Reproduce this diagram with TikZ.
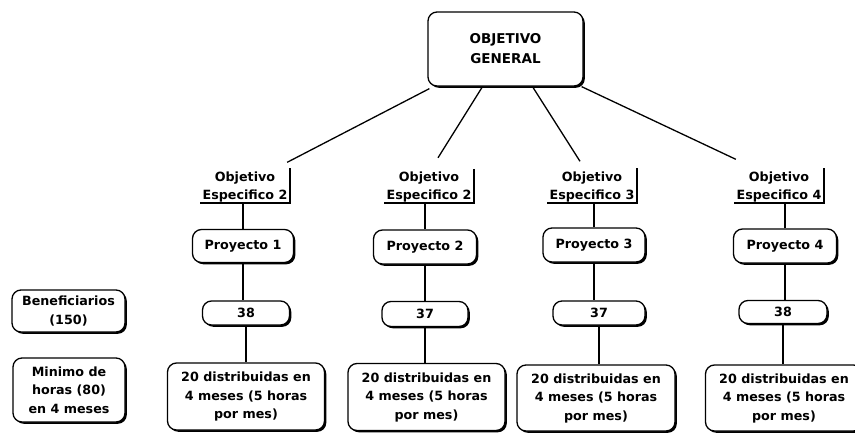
\documentclass[tikz,border=0pt]{standalone}
\usepackage{fontspec}
\setmainfont{DejaVu Sans}
\usetikzlibrary{shadows}
\begin{document}
\begin{tikzpicture}[x=1pt,y=-1pt,
  box/.style={draw=black, line width=1.3pt, rounded corners=9pt, fill=white,
    align=center, inner sep=0pt, font=\bfseries\fontsize{12.7}{18.5}\selectfont,
    drop shadow={shadow xshift=1.8pt, shadow yshift=-1.8pt, opacity=1, fill=black}},
  esp/.style={align=center, inner sep=0pt, minimum width=90pt, minimum height=32pt,
    font=\bfseries\fontsize{12.7}{18}\selectfont},
  bracket/.style={line width=2.4pt},
  conn/.style={line width=1.3pt}
]
\useasboundingbox (0,0) rectangle (855,434);
\fill[white] (0,0) rectangle (855,434);
\clip (0,0) rectangle (855,434);

% top
\node[box, minimum width=155pt, minimum height=74pt, font=\bfseries\fontsize{13.5}{20}\selectfont] (g) at (505.5,49) {OBJETIVO\\GENERAL};

% specific objectives
\node[esp] (e1) at (245,186.5) {Objetivo\\Especifico 2};
\node[esp] (e2) at (429,187) {Objetivo\\Especifico 2};
\node[esp] (e3) at (592,186.5) {Objetivo\\Especifico 3};
\node[esp] (e4) at (779,186.5) {Objetivo\\Especifico 4};
\foreach \e in {e1,e2,e3,e4}{
  \draw[bracket] ([yshift=2pt]\e.north east) -- (\e.south east) -- (\e.south west);
}

% projects
\node[box, minimum width=101pt, minimum height=33pt] (p1) at (243,246) {Proyecto 1};
\node[box, minimum width=103pt, minimum height=34pt] (p2) at (425,247) {Proyecto 2};
\node[box, minimum width=102pt, minimum height=34pt] (p3) at (594,245) {Proyecto 3};
\node[box, minimum width=103pt, minimum height=34pt] (p4) at (785,246) {Proyecto 4};

% numbers
\node[box, minimum width=87pt, minimum height=24pt] (n1) at (246,313) {38};
\node[box, minimum width=86pt, minimum height=25pt] (n2) at (425,314) {37};
\node[box, minimum width=92pt, minimum height=24pt] (n3) at (599,313) {37};
\node[box, minimum width=88pt, minimum height=23pt] (n4) at (783,312) {38};

% bottom boxes
\node[box, minimum width=157pt, minimum height=67pt] (d1) at (246,396.5) {20 distribuidas en\\4 meses (5 horas\\por mes)};
\node[box, minimum width=157pt, minimum height=67pt] (d2) at (426.5,397) {20 distribuidas en\\4 meses (5 horas\\por mes)};
\node[box, minimum width=158pt, minimum height=66pt] (d3) at (596,398) {20 distribuidas en\\4 meses (5 horas\\por mes)};
\node[box, minimum width=157pt, minimum height=66pt] (d4) at (784,398) {20 distribuidas en\\4 meses (5 horas\\por mes)};

% left boxes
\node[box, minimum width=113pt, minimum height=42pt] (b) at (68.5,311) {Beneficiarios\\(150)};
\node[box, minimum width=112pt, minimum height=64pt] (m) at (69,390) {Minimo de\\horas (80)\\en 4 meses};

% connectors from top
\draw[conn] ([shift={(2,2)}]g.south west) -- ([shift={(-3,-8)}]e1.north east);
\draw[conn] ([xshift=-23pt]g.south) -- ([shift={(9,-13)}]e2.north);
\draw[conn] ([xshift=27pt]g.south) -- ([shift={(-12,-9)}]e3.north);
\draw[conn] ([shift={(-2,0)}]g.south east) -- ([shift={(2,-11)}]e4.north west);

% vertical connectors
\foreach \i in {1,2,3,4}{
  \draw[conn] (p\i.north) -- (p\i.north |- e\i.south);
  \draw[conn] (p\i.south) -- (p\i.south |- n\i.north);
  \draw[conn] (n\i.south) -- (n\i.south |- d\i.north);
}
\end{tikzpicture}
\end{document}
